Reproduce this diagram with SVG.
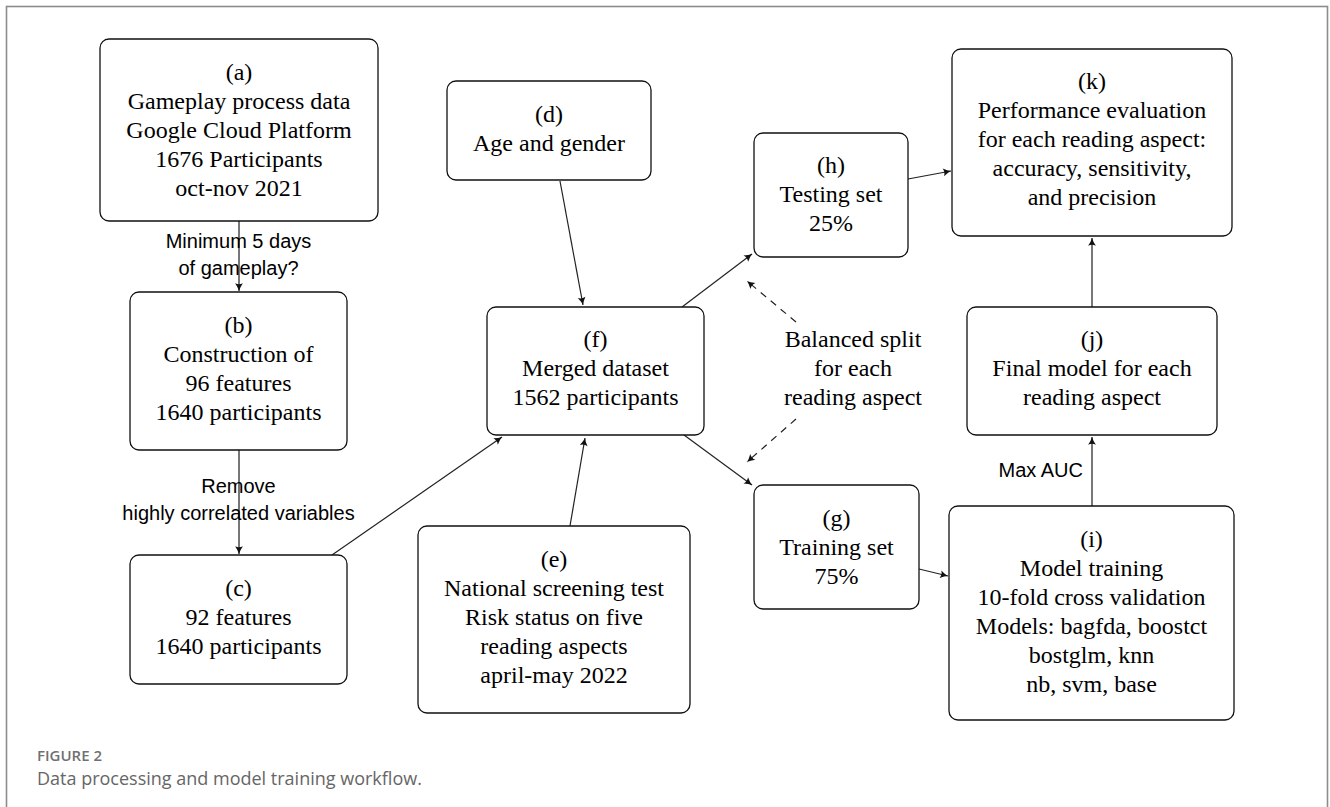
<svg xmlns="http://www.w3.org/2000/svg" width="1330" height="807" viewBox="0 0 1330 807">
<style>
.box{fill:#fff;stroke:#111;stroke-width:1.3}
.t{font-family:"Liberation Serif","Times New Roman",serif;font-size:24px;fill:#000;text-anchor:middle}
.lbl{font-family:"Liberation Sans",Arial,sans-serif;font-size:20px;fill:#000;text-anchor:middle}
.c{stroke:#222;stroke-width:1.2;fill:none;marker-end:url(#ah)}
.v{stroke:#555;stroke-width:1.6;fill:none;marker-end:url(#ah)}
.d{stroke:#222;stroke-width:1.2;fill:none;stroke-dasharray:7 6;marker-end:url(#ah)}
.cap1{font-family:"Open Sans","Noto Sans",sans-serif;font-size:15px;font-weight:600;fill:#707070}
.cap2{font-family:"Open Sans","Noto Sans",sans-serif;font-size:18px;fill:#666}
</style>
<defs>
<marker id="ah" markerUnits="userSpaceOnUse" markerWidth="10" markerHeight="10" refX="0" refY="0" viewBox="-8 -4 9 8" orient="auto">
<path d="M-7,-3.5 Q-3,-0.8 0,0 Q-3,0.8 -7,3.5 Q-5.2,0 -7,-3.5 Z" fill="#111"/>
</marker>
</defs>
<rect x="0" y="0" width="1330" height="807" fill="#fff"/>
<rect x="6.5" y="6.5" width="1321" height="830" fill="none" stroke="#8c8c8c" stroke-width="1.6"/>

<g id="connectors">
<line class="v" x1="239" y1="221" x2="239" y2="291"/>
<line class="v" x1="239" y1="450" x2="239" y2="554"/>
<line class="c" x1="332" y1="555" x2="502" y2="437"/>
<line class="c" x1="560" y1="181" x2="583" y2="305"/>
<line class="c" x1="570" y1="526" x2="585" y2="438"/>
<line class="c" x1="682" y1="307" x2="752" y2="254"/>
<line class="c" x1="684" y1="435" x2="752" y2="485"/>
<line class="c" x1="908" y1="179" x2="951" y2="171"/>
<line class="c" x1="919" y1="569" x2="948" y2="576"/>
<line class="v" x1="1092" y1="506" x2="1092" y2="437"/>
<line class="v" x1="1092" y1="307" x2="1092" y2="238"/>
<line class="d" x1="796" y1="322" x2="747" y2="281"/>
<line class="d" x1="796" y1="419" x2="747" y2="462"/>
<text class="lbl" x="238.5" y="248">Minimum 5 days</text>
<text class="lbl" x="238.5" y="275">of gameplay?</text>
<text class="lbl" x="238.5" y="493">Remove</text>
<text class="lbl" x="238.5" y="520">highly correlated variables</text>
<text class="lbl" x="1083" y="477" style="text-anchor:end">Max AUC</text>
<text class="t" x="853" y="347">Balanced split</text>
<text class="t" x="853" y="376">for each</text>
<text class="t" x="853" y="405">reading aspect</text>
</g>

<g id="node-a">
<rect class="box" x="100" y="39" width="278" height="182" rx="9"/>
<text class="t" x="239" y="80">(a)</text>
<text class="t" x="239" y="109">Gameplay process data</text>
<text class="t" x="239" y="138">Google Cloud Platform</text>
<text class="t" x="239" y="167">1676 Participants</text>
<text class="t" x="239" y="196">oct-nov 2021</text>
</g>
<g id="node-b">
<rect class="box" x="130" y="292" width="217" height="158" rx="9"/>
<text class="t" x="238.5" y="333">(b)</text>
<text class="t" x="238.5" y="362">Construction of</text>
<text class="t" x="238.5" y="391">96 features</text>
<text class="t" x="238.5" y="420">1640 participants</text>
</g>
<g id="node-c">
<rect class="box" x="130" y="555" width="217" height="129" rx="9"/>
<text class="t" x="238.5" y="596">(c)</text>
<text class="t" x="238.5" y="625">92 features</text>
<text class="t" x="238.5" y="654">1640 participants</text>
</g>
<g id="node-d">
<rect class="box" x="447" y="81" width="204" height="99" rx="9"/>
<text class="t" x="549" y="122">(d)</text>
<text class="t" x="549" y="151">Age and gender</text>
</g>
<g id="node-e">
<rect class="box" x="418" y="526" width="272" height="187" rx="9"/>
<text class="t" x="554" y="567">(e)</text>
<text class="t" x="554" y="596">National screening test</text>
<text class="t" x="554" y="625">Risk status on five</text>
<text class="t" x="554" y="654">reading aspects</text>
<text class="t" x="554" y="683">april-may 2022</text>
</g>
<g id="node-f">
<rect class="box" x="487" y="307" width="217" height="128" rx="9"/>
<text class="t" x="595.5" y="347">(f)</text>
<text class="t" x="595.5" y="376">Merged dataset</text>
<text class="t" x="595.5" y="405">1562 participants</text>
</g>
<g id="node-g">
<rect class="box" x="754" y="485" width="165" height="124" rx="9"/>
<text class="t" x="836.5" y="526">(g)</text>
<text class="t" x="836.5" y="555">Training set</text>
<text class="t" x="836.5" y="584">75%</text>
</g>
<g id="node-h">
<rect class="box" x="754" y="133" width="154" height="124" rx="9"/>
<text class="t" x="831" y="173">(h)</text>
<text class="t" x="831" y="202">Testing set</text>
<text class="t" x="831" y="231">25%</text>
</g>
<g id="node-i">
<rect class="box" x="949" y="506" width="285" height="214" rx="9"/>
<text class="t" x="1091.5" y="547">(i)</text>
<text class="t" x="1091.5" y="576">Model training</text>
<text class="t" x="1091.5" y="605">10-fold cross validation</text>
<text class="t" x="1091.5" y="634">Models: bagfda, boostct</text>
<text class="t" x="1091.5" y="663">bostglm, knn</text>
<text class="t" x="1091.5" y="692">nb, svm, base</text>
</g>
<g id="node-j">
<rect class="box" x="967" y="307" width="250" height="128" rx="9"/>
<text class="t" x="1092" y="347">(j)</text>
<text class="t" x="1092" y="376">Final model for each</text>
<text class="t" x="1092" y="405">reading aspect</text>
</g>
<g id="node-k">
<rect class="box" x="952" y="49" width="280" height="187" rx="9"/>
<text class="t" x="1092" y="89">(k)</text>
<text class="t" x="1092" y="118">Performance evaluation</text>
<text class="t" x="1092" y="147">for each reading aspect:</text>
<text class="t" x="1092" y="176">accuracy, sensitivity,</text>
<text class="t" x="1092" y="205">and precision</text>
</g>

<text class="cap1" x="37" y="761">FIGURE 2</text>
<text class="cap2" x="37" y="785">Data processing and model training workflow.</text>
</svg>
